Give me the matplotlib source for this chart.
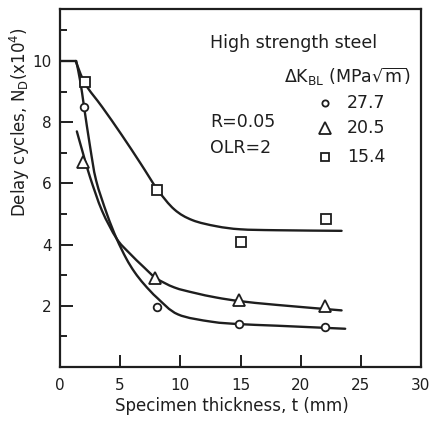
import matplotlib
matplotlib.use("Agg")
import matplotlib.pyplot as plt
from matplotlib.path import Path
from matplotlib.patches import PathPatch

plt.rcParams['font.family'] = ['DejaVu Sans']
plt.rcParams['mathtext.fontset'] = 'dejavusans'

INK = '#1e1e1e'

# measured data points (thickness mm, delay cycles x1e4)
t_circle = [2.0, 8.1, 14.9, 22.0]
n_circle = [8.5, 1.95, 1.4, 1.3]
t_tri = [1.9, 7.9, 14.9, 22.0]
n_tri = [6.7, 2.9, 2.2, 1.98]
t_sq = [2.1, 8.1, 15.0, 22.1]
n_sq = [9.3, 5.8, 4.1, 4.85]

# hand-drawn trend curves
cx_circle = [1.35, 1.7, 2.0, 2.5, 3.0, 3.9, 4.7, 5.5, 6.2, 7.0, 8.1, 9.8, 12.6, 15.0, 18.0, 23.7]
cy_circle = [10.0, 9.3, 8.5, 7.2, 6.1, 5.0, 4.2, 3.55, 3.1, 2.7, 2.25, 1.72, 1.48, 1.4, 1.35, 1.25]
cx_tri = [1.4, 1.9, 2.5, 3.5, 4.7, 5.7, 7.0, 8.0, 9.5, 11.2, 13.0, 15.0, 18.0, 23.4]
cy_tri = [7.7, 7.0, 6.2, 5.1, 4.2, 3.75, 3.25, 2.9, 2.6, 2.42, 2.27, 2.15, 2.03, 1.85]
cx_sq_flat = [0.1, 1.3]
cy_sq_flat = [10.0, 10.0]
cx_sq = [1.3, 2.1, 3.5, 5.1, 6.7, 8.1, 9.5, 11.0, 13.0, 15.0, 18.0, 23.4]
cy_sq = [10.0, 9.25, 8.5, 7.6, 6.65, 5.8, 5.15, 4.8, 4.6, 4.5, 4.47, 4.45]

xticks = [0, 5, 10, 15, 20, 25, 30]
yticks = [2, 4, 6, 8, 10]
yminor = [1, 3, 5, 7, 9, 11]


def smooth_path(xs, ys):
    """Catmull-Rom through traced points, expressed as cubic Bezier path."""
    pts = list(zip(xs, ys))
    verts = [pts[0]]
    codes = [Path.MOVETO]
    n = len(pts)
    for i in range(n - 1):
        p0 = pts[i - 1] if i > 0 else pts[i]
        p1 = pts[i]
        p2 = pts[i + 1]
        p3 = pts[i + 2] if i + 2 < n else pts[i + 1]
        c1 = (p1[0] + (p2[0] - p0[0]) / 6.0, p1[1] + (p2[1] - p0[1]) / 6.0)
        c2 = (p2[0] - (p3[0] - p1[0]) / 6.0, p2[1] - (p3[1] - p1[1]) / 6.0)
        verts += [c1, c2, p2]
        codes += [Path.CURVE4] * 3
    return Path(verts, codes)


fig = plt.figure(figsize=(4.32, 4.21), dpi=100)
ax = fig.add_axes([60/432, 1-367/421, (421-60)/432, (367-9)/421])

ax.plot(cx_sq_flat, cy_sq_flat, color=INK, lw=1.7, solid_capstyle='round')
for cx, cy in [(cx_circle, cy_circle), (cx_tri, cy_tri), (cx_sq, cy_sq)]:
    ax.add_patch(PathPatch(smooth_path(cx, cy), fill=False, ec=INK, lw=1.7,
                           capstyle='round', joinstyle='round'))

mk = dict(ls='none', mfc='white', mec=INK, mew=1.3, zorder=3)
ax.plot(t_circle, n_circle, marker='o', ms=5.5, **mk)
ax.plot(t_tri, n_tri, marker='^', ms=8, **mk)
ax.plot(t_sq, n_sq, marker='s', ms=6.5, **mk)

ax.set_xlim(0, 30)
ax.set_ylim(0, 11.7)
ax.set_xticks(xticks)
ax.set_yticks(yticks)
ax.set_yticks(yminor, minor=True)
ax.tick_params(which='major', direction='in', length=9, width=1.4, color=INK,
               labelsize=11, labelcolor=INK)
ax.tick_params(which='minor', direction='in', length=5, width=1.4, color=INK)
ax.tick_params(axis='x', pad=8)
ax.tick_params(axis='y', pad=6)
for s in ax.spines.values():
    s.set_linewidth(1.6)
    s.set_color(INK)

fs = 12.5
fig.text(210/432, 1-43/421, "High strength steel", fontsize=fs, color=INK,
         va='center', ha='left')
fig.text(284/432, 1-77/421, r"$\Delta$K$_\mathregular{BL}$ (MPa$\sqrt{\mathregular{m}}$)",
         fontsize=fs, color=INK, va='center', ha='left')
fig.text(210/432, 1-122/421, "R=0.05", fontsize=fs, color=INK, va='center', ha='left')
fig.text(210/432, 1-148/421, "OLR=2", fontsize=fs, color=INK, va='center', ha='left')

leg_vals = ["27.7", "20.5", "15.4"]
leg_y = [103, 128, 157]
leg_m = [('o', 4.5), ('^', 8), ('s', 6)]
for v, yy, (m, s) in zip(leg_vals, leg_y, leg_m):
    xa, ya = ax.transAxes.inverted().transform(fig.transFigure.transform((325/432, 1-yy/421)))
    ax.plot([xa], [ya], marker=m, ms=s, transform=ax.transAxes, clip_on=False, **mk)
    fig.text(347/432, 1-yy/421, v, fontsize=fs, color=INK, va='center', ha='left')

fig.text(232/432, 1-406/421, "Specimen thickness, t (mm)", fontsize=12, color=INK,
         ha='center', va='center')
fig.text(20/432, 1-122/421, r"Delay cycles, N$_\mathregular{D}$(x10$^\mathregular{4}$)",
         fontsize=12, color=INK, ha='center', va='center', rotation=90)

fig.savefig("out.png", dpi=100, facecolor='white')
